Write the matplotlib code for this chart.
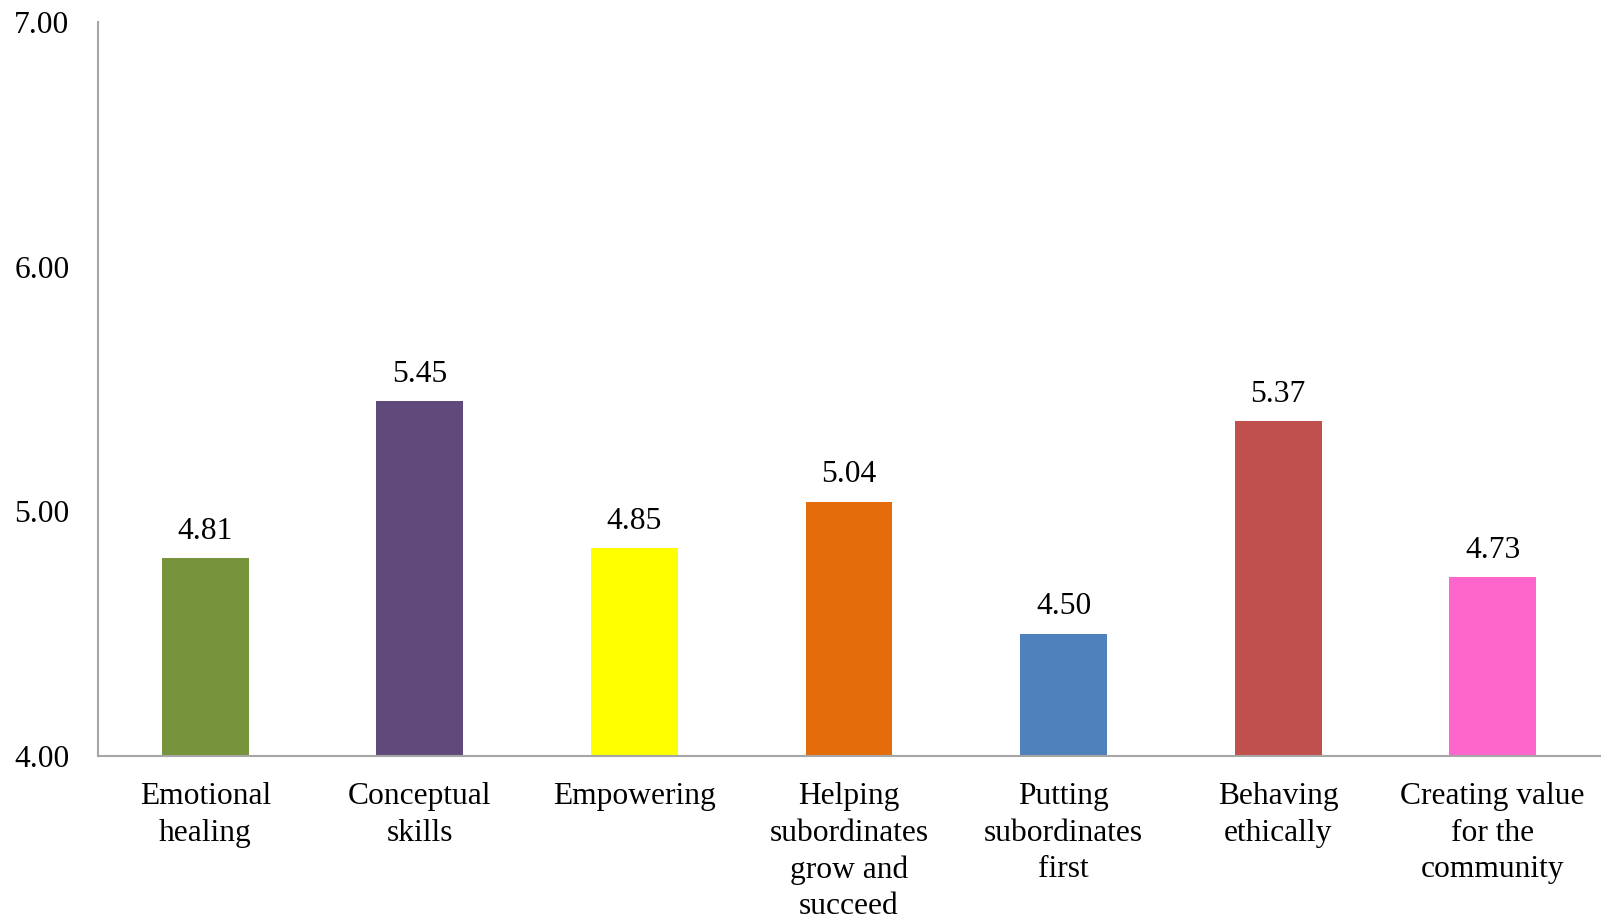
import matplotlib
matplotlib.use("Agg")
import matplotlib.pyplot as plt

categories = ["Emotional\nhealing", "Conceptual\nskills", "Empowering",
              "Helping\nsubordinates\ngrow and\nsucceed", "Putting\nsubordinates\nfirst",
              "Behaving\nethically", "Creating value\nfor the\ncommunity"]
values = [4.81, 5.45, 4.85, 5.04, 4.50, 5.37, 4.73]
colors = ["#77933C", "#604A7B", "#FFFF00", "#E46C0A", "#4F81BD", "#C0504D", "#FF66CC"]
yticks = [4.00, 5.00, 6.00, 7.00]

plt.rcParams["font.family"] = ["Liberation Serif", "DejaVu Serif"]
FS = 22.7

fig = plt.figure(figsize=(16.04, 9.19), dpi=100)
ax = fig.add_axes([98 / 1604, 1 - 756 / 919, (1600 - 98) / 1604, (756 - 22) / 919])

x = range(len(values))
ax.bar(x, values, width=0.405, color=colors)
ax.set_ylim(4.0, 7.0)
ax.set_xlim(-0.5, len(values) - 0.5)

for xi, v in zip(x, values):
    ax.text(xi, v + 0.05, f"{v:.2f}", ha="center", va="bottom", fontsize=FS)

ax.set_yticks(yticks)
ax.set_yticklabels([f"{t:.2f}" for t in yticks], fontsize=FS)
ax.set_xticks(list(x))
ax.set_xticklabels(categories, fontsize=FS, linespacing=1.335, va="top")
ax.tick_params(axis="y", length=0, pad=20.5)
ax.tick_params(axis="x", length=0, pad=19)

for side in ["top", "right"]:
    ax.spines[side].set_visible(False)
for side in ["left", "bottom"]:
    ax.spines[side].set_color("#A6A6A6")
    ax.spines[side].set_linewidth(1.5)

fig.savefig("out.png", dpi=100, facecolor="white")
